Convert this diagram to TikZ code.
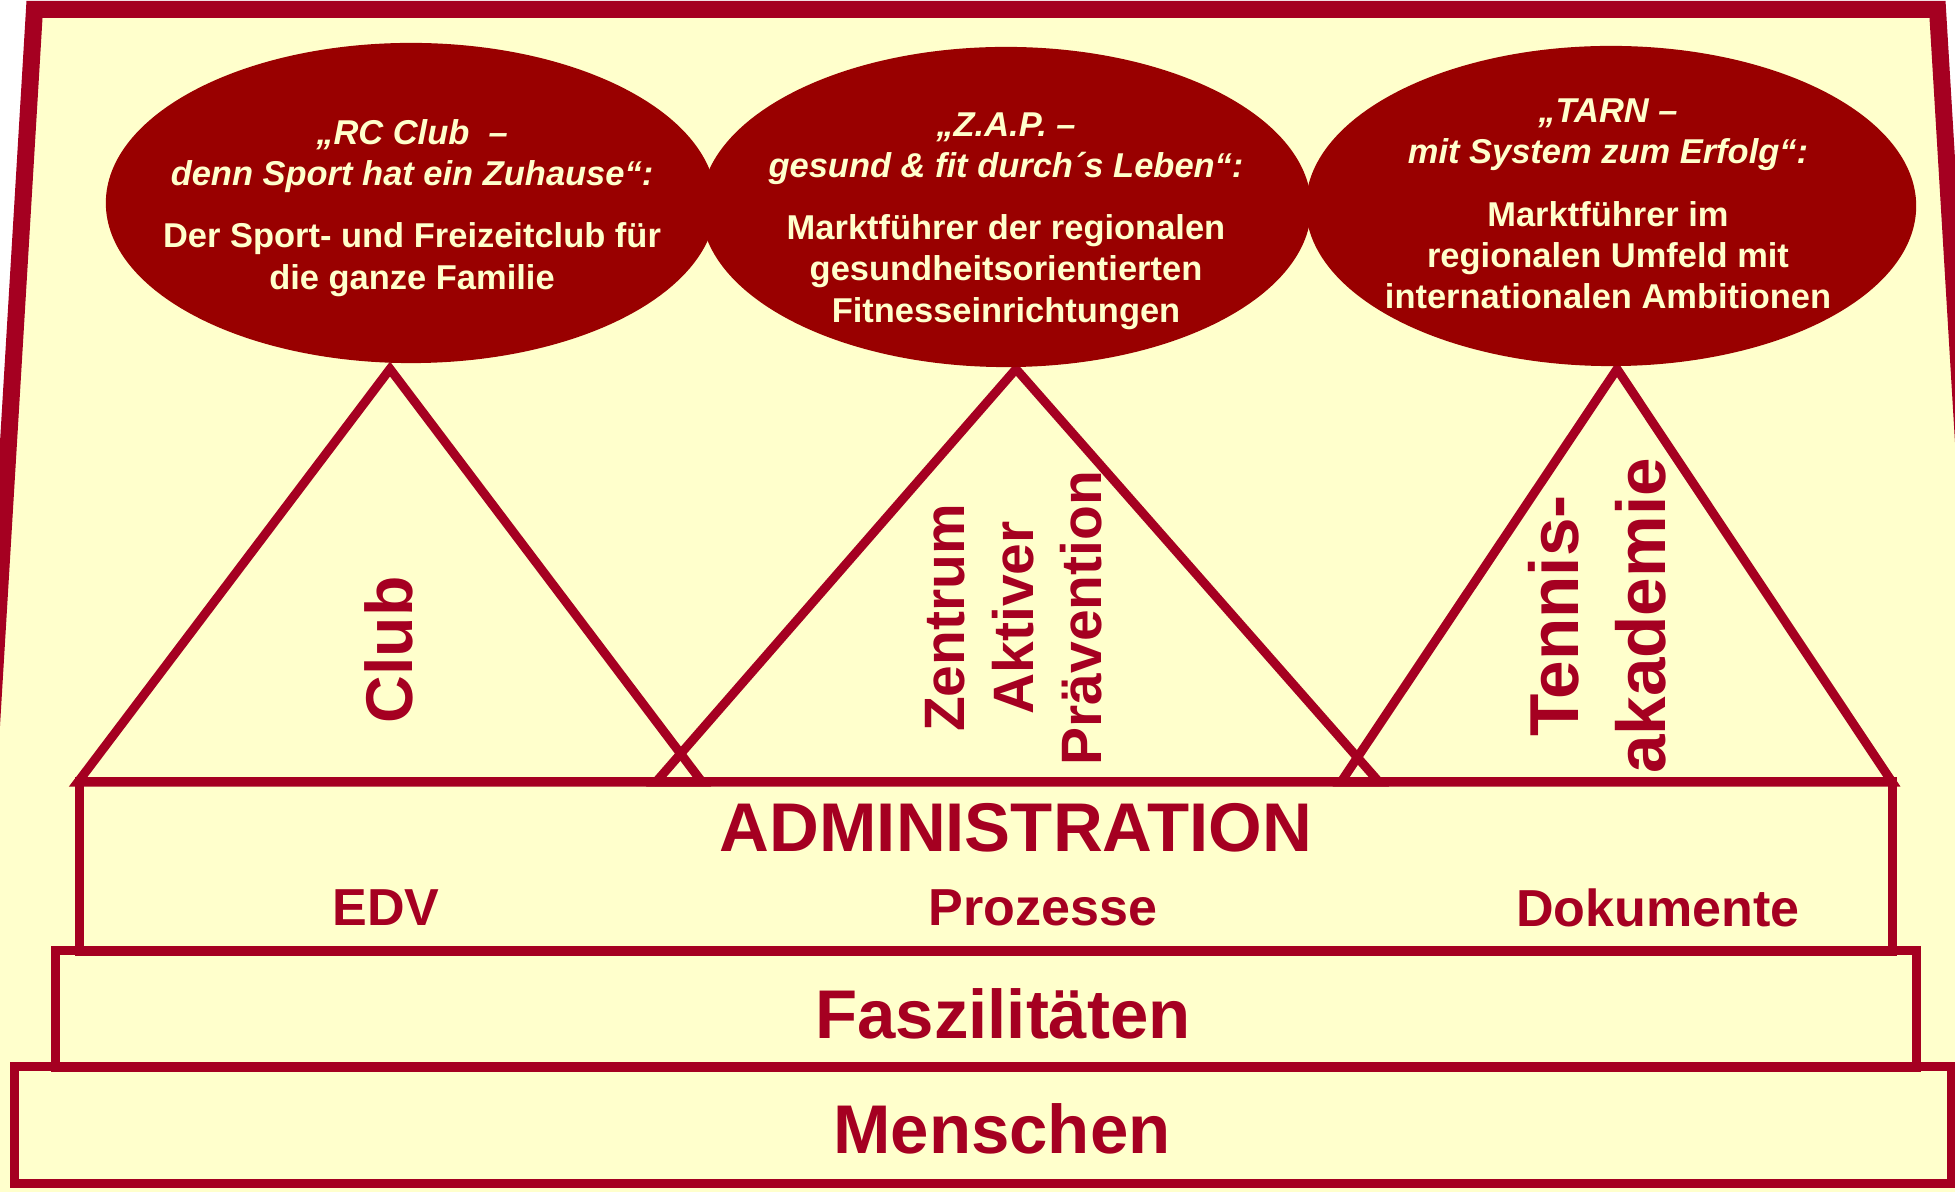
\documentclass[tikz,border=0pt]{standalone}
\usepackage{fontspec}
\setmainfont{Liberation Sans}
\usetikzlibrary{shapes.geometric, positioning}

\definecolor{frameRed}{HTML}{A50021}
\definecolor{ovalRed}{HTML}{990000}
\definecolor{paleYellow}{HTML}{FFFFCC}

\tikzset{
  frameLine/.style={draw=frameRed, fill=paleYellow, line width=0.17cm, line join=miter},
  layer/.style={draw=frameRed, line width=0.09cm, inner sep=0pt},
  pillar/.style={draw=frameRed, line width=0.09cm, line join=miter},
  oval/.style={ellipse, fill=ovalRed, minimum width=6.1cm, minimum height=3.2cm, inner sep=0pt},
  ovalText/.style={text=paleYellow, align=center, inner sep=0pt, font=\bfseries\fontsize{9.8}{11.7}\selectfont},
  pillarText/.style={text=frameRed, rotate=90, align=center, inner sep=0pt},
  bigText/.style={text=frameRed, inner sep=0pt, font=\bfseries\fontsize{19.6}{23}\selectfont},
  smallText/.style={text=frameRed, inner sep=0pt, font=\bfseries\fontsize{14.8}{17}\selectfont}
}

\begin{document}
\begin{tikzpicture}[x=0.01cm, y=-0.01cm]
        \useasboundingbox (0,0) rectangle (1955,1192);
        \clip (0,0) rectangle (1955,1192);
        \fill[white] (0,0) rectangle (1955,1192);

        % outer frame
        \draw[frameLine] (-43,1300) -- (34.5,9.5) -- (1937.5,9.5) -- (2015,1300) -- cycle;

        % foundation layers
        \node[layer, minimum width=19.36cm, minimum height=1.16cm] (menschen) at (983,1125) {};
        \node[layer, minimum width=18.60cm, minimum height=1.16cm] (faszil) at (986,1009) {};
        \node[layer, minimum width=18.12cm, minimum height=1.69cm] (admin) at (986,866.5) {};

        % pillars
        \coordinate (clubTop) at (390,369);
        \coordinate (clubL) at (78,782);
        \coordinate (clubR) at (702,782);
        \coordinate (zapTop) at (1016,369);
        \coordinate (zapL) at (656,782);
        \coordinate (zapR) at (1379,782);
        \coordinate (tarnTop) at (1617,369);
        \coordinate (tarnL) at (1341,782);
        \coordinate (tarnR) at (1892,782);

        \draw[pillar] (clubL) -- (clubTop) -- (clubR) -- cycle;
        \draw[pillar] (zapL) -- (zapTop) -- (zapR) -- cycle;
        \draw[pillar] (tarnL) -- (tarnTop) -- (tarnR) -- cycle;

        % visions
        \node[oval] (ovalClub) at (411,203) {};
        \node[oval] (ovalZap) at (1006,207) {};
        \node[oval] (ovalTarn) at (1611,206) {};

        \node[ovalText] (txtClub) at (412,208) {{\itshape „RC Club\ \ –}\\{\itshape denn Sport hat ein Zuhause“:}\\[6pt]Der Sport- und Freizeitclub für\\die ganze Familie};
        \node[ovalText] (txtZap) at (1006,221) {{\itshape „Z.A.P. –}\\{\itshape gesund \& fit durch´s Leben“:}\\[6pt]Marktführer der regionalen\\gesundheitsorientierten\\Fitnesseinrichtungen};
        \node[ovalText] (txtTarn) at (1608,204) {{\itshape „TARN –}\\{\itshape mit System zum Erfolg“:}\\[6pt]Marktführer im\\regionalen Umfeld mit\\internationalen Ambitionen};

        % pillar names
        \node[pillarText, font=\bfseries\fontsize{18.8}{22}\selectfont] (lblClub) at (389,650) {Club};
        \node[pillarText, font=\bfseries\fontsize{16.2}{19.5}\selectfont] (lblZap) at (1014,618) {Zentrum\\Aktiver\\Prävention};
        \node[pillarText, font=\bfseries\fontsize{19.7}{24.8}\selectfont] (lblTarn) at (1597,616) {Tennis-\\akademie};

        % layer texts
        \node[bigText] (txtAdmin) at (1016,828) {ADMINISTRATION};
        \node[smallText] (txtEdv) at (386,908) {EDV};
        \node[smallText] (txtProz) at (1043,908) {Prozesse};
        \node[smallText] (txtDok) at (1658,908) {Dokumente};
        \node[bigText] (txtFasz) at (1003,1014) {Faszilitäten};
        \node[bigText] (txtMensch) at (1002,1129) {Menschen};
\end{tikzpicture}
\end{document}
